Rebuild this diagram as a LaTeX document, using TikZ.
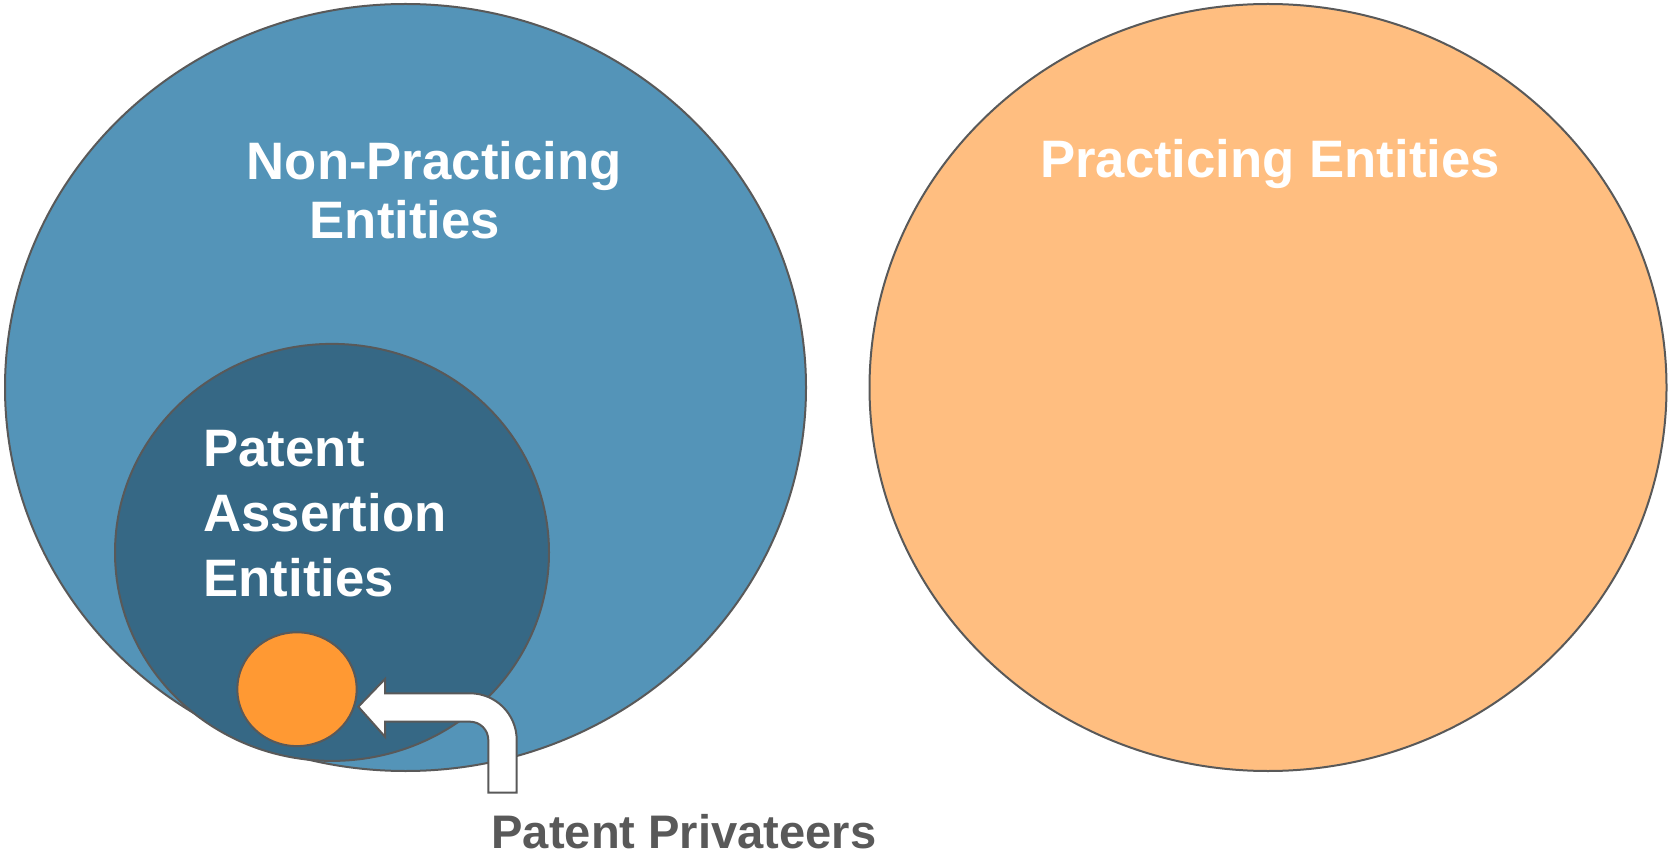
\documentclass[tikz,border=0pt]{standalone}
\usepackage{fontspec}
\setmainfont{Liberation Sans}
\usepackage{xcolor}
\usepackage{tikz}
\usetikzlibrary{shapes.geometric,positioning}

\definecolor{npeblue}{RGB}{84,148,184}
\definecolor{paeblue}{RGB}{54,104,133}
\definecolor{peorange}{RGB}{255,190,128}
\definecolor{ppcorange}{RGB}{255,153,51}
\definecolor{edgegray}{RGB}{89,89,89}

\begin{document}
\begin{tikzpicture}[x=1pt,y=1pt,
    set/.style={ellipse,draw=edgegray,line width=2pt,inner sep=0pt},
    setlabel/.style={inner sep=0pt,text=white,font=\bfseries\fontsize{52.7}{65}\selectfont},
    outlabel/.style={inner sep=0pt,text=edgegray,font=\bfseries\fontsize{47.1}{56}\selectfont}]
  \useasboundingbox (0,0) rectangle (1669,855);
  % the sets
  \node[set,fill=npeblue,minimum width=801pt,minimum height=767pt]    (NPE) at (405.5,467.5) {};
  \node[set,fill=peorange,minimum width=797pt,minimum height=767pt]   (PE)  at (1268,467.5) {};
  \node[set,fill=paeblue,minimum width=434pt,minimum height=417pt]    (PAE) at (332,302.6) {};
  \node[set,fill=ppcorange,minimum width=119.4pt,minimum height=113.8pt] (PPC) at (297,165.8) {};
  % bent block arrow up from the label
  \coordinate (tip) at (358.3,148.3);
  \draw[edgegray,fill=white,line width=2pt,line join=miter]
    (tip) -- (385,176) -- (385,161.7) -- (470,161.7)
    arc[start angle=90,end angle=0,radius=46.7pt] -- (516.7,62.3) -- (488.3,62.3) -- (488.3,115)
    arc[start angle=0,end angle=90,radius=18.3pt] -- (385,133.3) -- (385,118.3) -- cycle;
  % labels
  \node[setlabel,anchor=base] (NPEa) at (434.2,675.7) {Non-Practicing};
  \node[setlabel,anchor=base] (NPEb) at (405,616.7)   {Entities};
  \node[setlabel,anchor=base] (PEa)  at (1270,677.3)  {Practicing Entities};
  \node[setlabel,anchor=base west,align=left] (PAEa) at (203.3,258.3) {Patent\\Assertion\\Entities};
  \node[outlabel,anchor=base] (PPCa) at (684,7) {Patent Privateers};
\end{tikzpicture}
\end{document}
